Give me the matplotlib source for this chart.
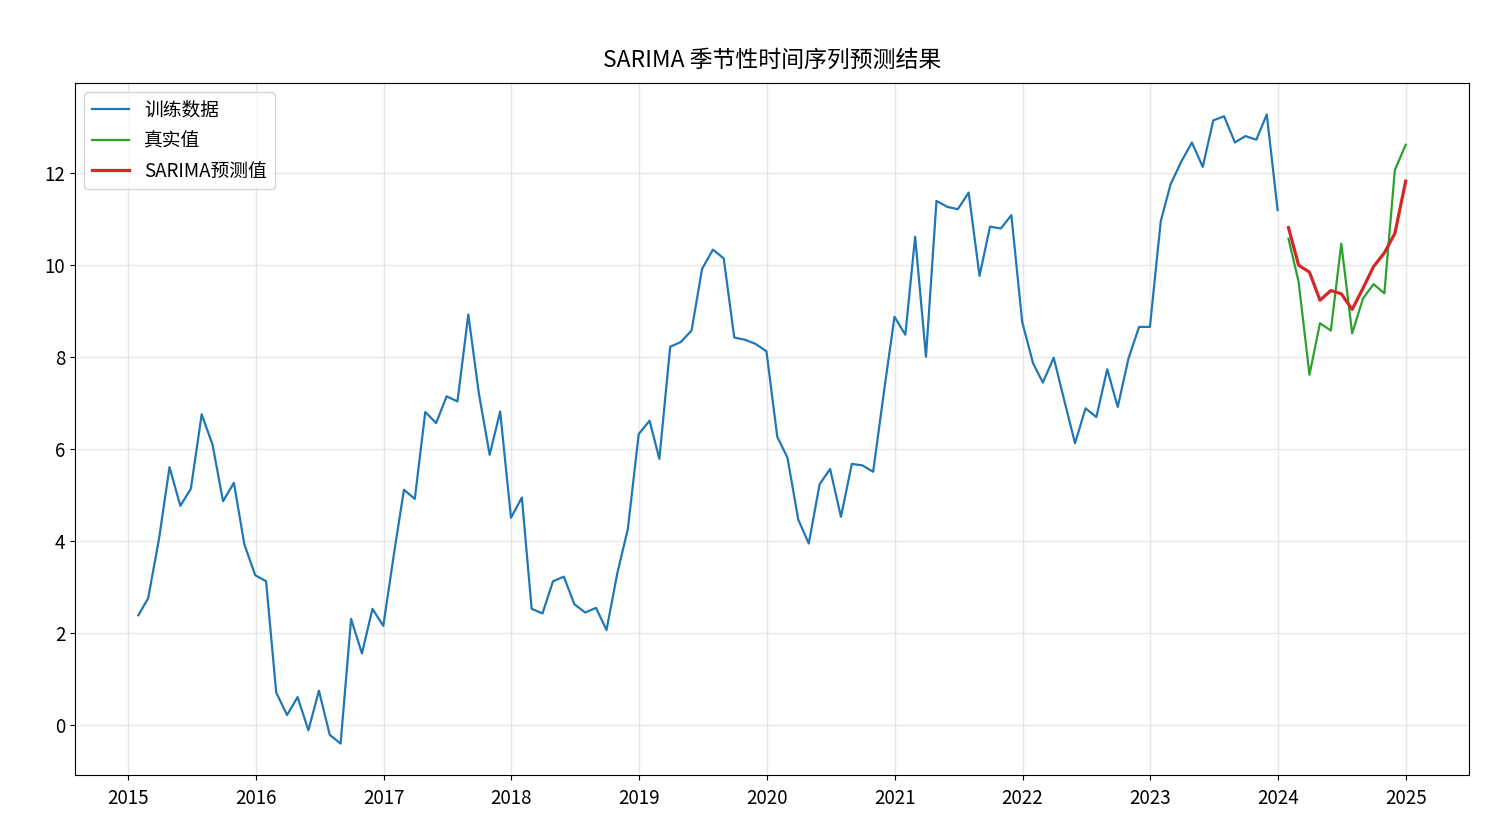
import numpy as np
import pandas as pd
import matplotlib
matplotlib.use("Agg")
import matplotlib.pyplot as plt
import matplotlib.dates as mdates

plt.rcParams['font.family'] = ['Noto Sans CJK SC', 'DejaVu Sans']
plt.rcParams['axes.unicode_minus'] = False

# monthly values
train_values = [
    2.39, 2.76, 4.05, 5.61, 4.77, 5.14, 6.76, 6.10, 4.87, 5.27, 3.93, 3.26,      # 2015
    3.13, 0.71, 0.22, 0.61, -0.11, 0.75, -0.21, -0.40, 2.31, 1.56, 2.53, 2.16,   # 2016
    3.75, 5.12, 4.92, 6.81, 6.57, 7.15, 7.04, 8.93, 7.22, 5.88, 6.82, 4.51,      # 2017
    4.95, 2.53, 2.43, 3.13, 3.23, 2.63, 2.45, 2.55, 2.07, 3.31, 4.27, 6.33,      # 2018
    6.62, 5.79, 8.23, 8.33, 8.58, 9.92, 10.34, 10.15, 8.43, 8.38, 8.29, 8.13,    # 2019
    6.27, 5.82, 4.47, 3.95, 5.24, 5.57, 4.53, 5.68, 5.65, 5.51, 7.20, 8.88,      # 2020
    8.49, 10.62, 8.01, 11.40, 11.27, 11.22, 11.58, 9.77, 10.84, 10.80, 11.09, 8.77,  # 2021
    7.87, 7.45, 7.99, 7.07, 6.13, 6.89, 6.70, 7.74, 6.92, 7.98, 8.66, 8.66,      # 2022
    10.96, 11.76, 12.26, 12.67, 12.14, 13.15, 13.24, 12.67, 12.81, 12.73, 13.28, 11.20,  # 2023
]
test_values = [10.58, 9.64, 7.62, 8.74, 8.58, 10.47, 8.52, 9.28, 9.59, 9.39, 12.07, 12.62]
pred_values = [10.82, 10.00, 9.85, 9.24, 9.45, 9.38, 9.04, 9.50, 9.97, 10.27, 10.69, 11.83]

train_dates = pd.date_range('2015-01-31', periods=len(train_values), freq='ME')
test_dates = pd.date_range('2024-01-31', periods=len(test_values), freq='ME')

fig, ax = plt.subplots(figsize=(15.12, 8.34), dpi=100)
fig.subplots_adjust(left=0.0496, right=0.9716, top=0.9005, bottom=0.0707)

ax.plot(train_dates, train_values, color='#1f77b4', lw=1.6, label='训练数据')
ax.plot(test_dates, test_values, color='#2ca02c', lw=1.6, label='真实值')
ax.plot(test_dates, pred_values, color='#d62728', lw=2.3, label='SARIMA预测值')

ax.xaxis.set_major_locator(mdates.YearLocator())
ax.xaxis.set_major_formatter(mdates.DateFormatter('%Y'))
ax.tick_params(labelsize=13.5)
ax.tick_params(axis='x', pad=6)
ax.grid(True, alpha=0.3, lw=1.0)
ax.set_title('SARIMA 季节性时间序列预测结果', fontsize=16.5, pad=12)
ax.legend(loc='upper left', fontsize=13.5)

fig.savefig('out.png', dpi=100)
